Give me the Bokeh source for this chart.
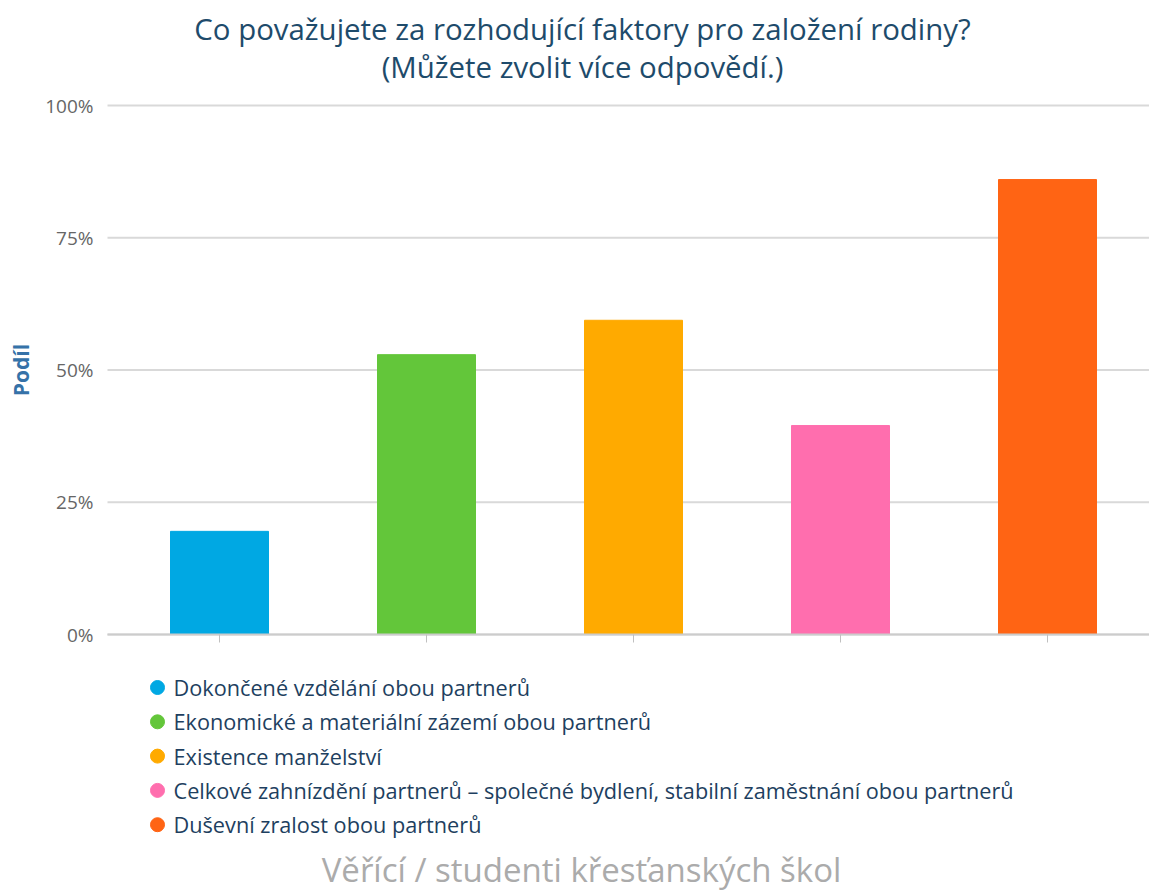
import math
from bokeh.plotting import figure
from bokeh.models import ColumnDataSource, Range1d
from bokeh.core.properties import value
from bokeh.embed import file_html
from bokeh.resources import INLINE

# ---- data ----
categories = [
    "Dokončené vzdělání obou partnerů",
    "Ekonomické a materiální zázemí obou partnerů",
    "Existence manželství",
    "Celkové zahnízdění partnerů – společné bydlení, stabilní zaměstnání obou partnerů",
    "Duševní zralost obou partnerů",
]
values = [19.5, 52.9, 59.4, 39.5, 86.0]
colors = ["#00a8e3", "#63c63a", "#ffaa00", "#ff6eae", "#ff6414"]
y_ticks = [0, 25, 50, 75, 100]
y_tick_labels = ["0%", "25%", "50%", "75%", "100%"]
title_lines = ["Co považujete za rozhodující faktory pro založení rodiny?",
               "(Můžete zvolit více odpovědí.)"]
y_axis_title = "Podíl"
caption = "Věřící / studenti křesťanských škol"

FONT = value("Open Sans")

# ---- layout (picture pixels) ----
W, H = 1149, 891
CAT_PX, CAT0_PX = 207.0, 219.0      # px per category, centre of first category
PCT_PX, ZERO_PX = 5.29, 634.0        # px per percent, baseline
PLOT_LEFT_PX = 107.0

def xd(px):
    return (px - CAT0_PX) / CAT_PX

def yd(py):
    return (ZERO_PX - py) / PCT_PX

p = figure(width=W, height=H, output_backend="svg", toolbar_location=None,
           x_range=Range1d(xd(0), xd(W)), y_range=Range1d(yd(H), yd(0)),
           x_axis_location=None, y_axis_location=None, min_border=0)
p.outline_line_color = None
p.grid.visible = False
p.background_fill_color = "white"
p.border_fill_color = "white"

xs = list(range(len(categories)))
x_left, x_right = xd(PLOT_LEFT_PX), xd(W)

# grid lines
p.segment(x0=[x_left] * len(y_ticks), x1=[x_right] * len(y_ticks), y0=y_ticks, y1=y_ticks,
          line_color="#d9d9d9", line_width=2)
# y tick labels
p.text(x=[xd(93)] * len(y_ticks), y=y_ticks, text=y_tick_labels, text_font=FONT,
       text_font_size=value("19px"), text_color="#666666", text_align="right",
       text_baseline="middle")
# y axis title
p.text(x=[xd(20)], y=[(y_ticks[0] + y_ticks[-1]) / 2], text=[y_axis_title], angle=math.pi / 2,
       text_font=FONT, text_font_size=value("21px"), text_font_style="bold",
       text_color="#3572a8", text_align="center", text_baseline="middle")

# bars
src = ColumnDataSource(dict(x=xs, top=values, color=colors, name=categories))
p.vbar(x="x", top="top", bottom=0, width=98 / CAT_PX, color="color", source=src)

# x axis line and ticks
p.segment(x0=[x_left], x1=[x_right], y0=[0], y1=[0], line_color="#cccccc", line_width=2)
p.segment(x0=xs, x1=xs, y0=[0] * len(xs), y1=[yd(ZERO_PX + 8)] * len(xs),
          line_color="#c0c0c0", line_width=1)

# title
p.text(x=[xd(582)] * 2, y=[yd(28), yd(66)], text=title_lines, text_font=FONT,
       text_font_size=value("29.4px"), text_color="#1e4b6b", text_align="center",
       text_baseline="middle")

# legend
rows_y = [yd(687 + i * 34.3) for i in range(len(categories))]
p.scatter(x=[xd(157)] * len(categories), y=rows_y, marker="circle", size=14,
          color=colors)
p.text(x=[xd(173)] * len(categories), y=rows_y, text=categories, text_font=FONT,
       text_font_size=value("21.7px"), text_color="#1e3f60", text_align="left",
       text_baseline="middle")

# caption
p.text(x=[xd(581)], y=[yd(869)], text=[caption], text_font=FONT,
       text_font_size=value("33px"), text_color="#ababab", text_align="center",
       text_baseline="middle")

open("out.html", "w").write(file_html(p, INLINE))
